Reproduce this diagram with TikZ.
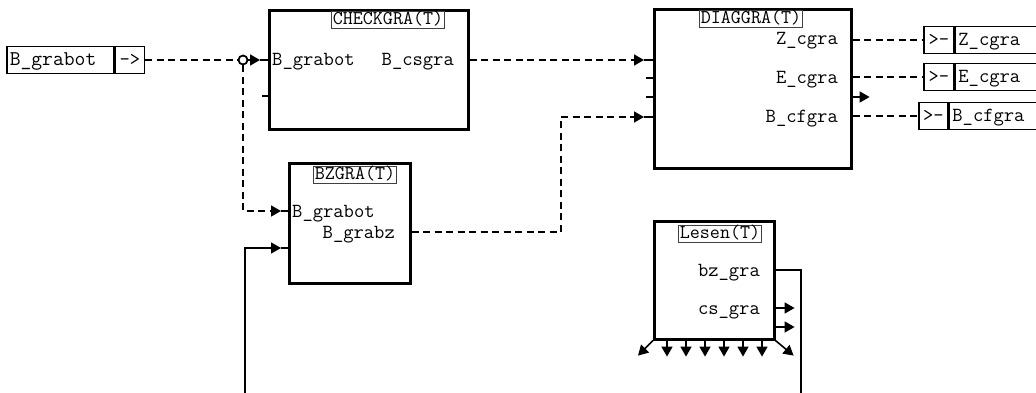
\documentclass[tikz,border=0pt]{standalone}
\usepackage{fontspec}
\usetikzlibrary{arrows.meta,positioning,calc}

\tikzset{
  fblock/.style={draw, line width=2.6pt, anchor=north west, inner sep=0pt},
  ttl/.style={draw=black!75, line width=0.8pt, inner xsep=1.5pt, inner ysep=0.5pt,
    text height=12.5pt, text depth=3.5pt, font=\ttfamily\fontsize{19.5}{20}\selectfont},
  plbl/.style={inner sep=0pt, text height=12pt, text depth=0pt,
    font=\ttfamily\fontsize{20}{22}\selectfont},
  sig/.style={draw, line width=1.6pt, minimum height=27pt, inner xsep=3pt, inner ysep=0pt,
    text height=12pt, text depth=0pt, font=\ttfamily\fontsize{20}{22}\selectfont},
  wire/.style={line width=1.6pt},
  dwire/.style={wire, dash pattern=on 7pt off 4.5pt},
  tip/.style={-{Triangle[length=10pt,width=11pt]}}
}

\begin{document}
\begin{tikzpicture}[x=1pt,y=-1pt]
  \useasboundingbox (0,0) rectangle (1036,393);
  \fill[white] (0,0) rectangle (1036,393);
  \clip (0,0) rectangle (1036,393);

  % input signal
  \node[sig, text width=101pt, align=left, anchor=west, font=\ttfamily\fontsize{21}{22}\selectfont] (srcname) at (6,60) {B\_grabot};
  \node[sig, minimum width=29pt, anchor=west] (srcarr) at (srcname.east) {->};

  % CHECKGRA
  \node[fblock, minimum width=199pt, minimum height=119pt] (chk) at (268,9) {};
  \node[ttl] (chkT) at (388,20) {CHECKGRA(T)};
  \node[plbl, anchor=west] (chkin) at (272,60) {B\_grabot};
  \node[plbl, anchor=east] (chkout) at (454,60) {B\_csgra};

  % DIAGGRA
  \node[fblock, minimum width=197pt, minimum height=159pt] (dia) at (653,8) {};
  \node[ttl] (diaT) at (751,19) {DIAGGRA(T)};
  \node[plbl, anchor=east] (diaz) at (838,39) {Z\_cgra};
  \node[plbl, anchor=east] (diae) at (838,78) {E\_cgra};
  \node[plbl, anchor=east] (diab) at (838,117) {B\_cfgra};

  % BZGRA
  \node[fblock, minimum width=121pt, minimum height=120pt] (bz) at (288,162) {};
  \node[ttl] (bzT) at (355,175) {BZGRA(T)};
  \node[plbl, anchor=west] (bzin) at (292,211) {B\_grabot};
  \node[plbl, anchor=east] (bzout) at (395,232) {B\_grabz};

  % Lesen
  \node[fblock, minimum width=120pt, minimum height=118pt] (rd) at (653,220) {};
  \node[ttl] (rdT) at (720,234) {Lesen(T)};
  \node[plbl, anchor=east] (rdbz) at (760,270) {bz\_gra};
  \node[plbl, anchor=east] (rdcs) at (760,308) {cs\_gra};

  % output signals
  \node[sig, minimum width=30pt, anchor=west] (zarr) at (923,40) {>-};
  \node[sig, text width=90pt, align=left, anchor=west] (zname) at (zarr.east) {Z\_cgra};
  \node[sig, minimum width=30pt, anchor=west] (earr) at (923,77) {>-};
  \node[sig, text width=90pt, align=left, anchor=west] (ename) at (earr.east) {E\_cgra};
  \node[sig, minimum width=29pt, anchor=west] (barr) at (918,116) {>-};
  \node[sig, text width=90pt, align=left, anchor=west] (bname) at (barr.east) {B\_cfgra};

  % ports
  \coordinate (chkp) at (260,60);
  \coordinate (diap1) at (644,60);
  \coordinate (diap4) at (644,117);
  \coordinate (bzp1) at (281,211);
  \coordinate (bzp2) at (281,248);
  \coordinate (fbsrc) at (245,400);
  \coordinate (fbbot) at (801,400);

  % connections
  \node[circle, draw, fill=white, line width=1.8pt, minimum size=9pt, inner sep=0pt] (jct) at (243,60) {};
  \draw[dwire] (srcarr.east) -- (jct);
  \draw[dwire, tip] (jct) -- (chkp);
  \draw[wire] (chkp) -- (chk.west |- chkp);
  \draw[wire] (chk.west |- 0,96) -- ++(-6,0);

  \draw[dwire, tip] (jct) |- (bzp1);
  \draw[wire] (bzp1) -- (bz.west |- bzp1);
  \draw[wire, tip] (fbsrc) |- (bzp2);
  \draw[wire] (bzp2) -- (bz.west |- bzp2);

  \draw[dwire, tip] (chk.east |- chkout) -- (diap1);
  \draw[wire] (diap1) -- (dia.west |- diap1);
  \draw[wire] (dia.west |- 0,78) -- ++(-7,0);
  \draw[wire] (dia.west |- 0,97) -- ++(-7,0);
  \draw[dwire, tip] (bz.east |- bzout) -| (561,117) -- (diap4);
  \draw[wire] (diap4) -- (dia.west |- diap4);

  \draw[dwire] (dia.east |- zarr.west) -- (zarr.west);
  \draw[dwire] (dia.east |- earr.west) -- (earr.west);
  \draw[dwire] (dia.east |- barr.west) -- (barr.west);
  \draw[wire, tip] (dia.east |- 0,97) -- ++(17,0);

  \draw[wire] (rd.east |- rdbz) -| (fbbot);
  \draw[wire, tip] (rd.east |- rdcs) -- ++(19,0);
  \draw[wire, tip] (rd.east |- 0,327) -- ++(19,0);
  \foreach \i in {1,...,6}
    \draw[wire, tip] ($(rd.south west)+(19*\i-5,0)$) -- ++(0,16);
  \draw[wire, tip] (rd.south west) -- ++(-15,15);
  \draw[wire, tip] (rd.south east) -- ++(18,15);
\end{tikzpicture}
\end{document}
